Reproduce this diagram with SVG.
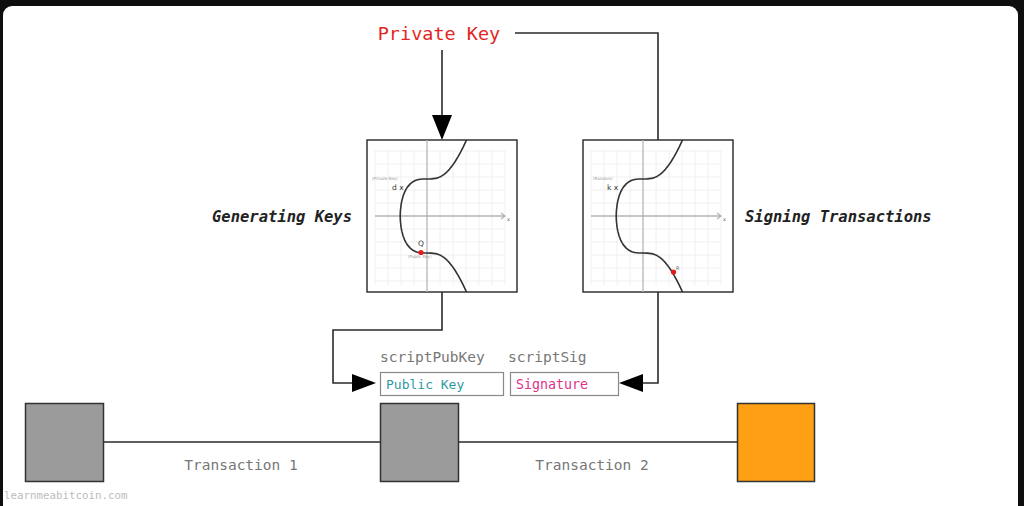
<svg xmlns="http://www.w3.org/2000/svg" width="1024" height="506" viewBox="0 0 1024 506">
<style>
.mono{font-family:"DejaVu Sans Mono","Liberation Mono",monospace}
.conn{fill:none;stroke:#2a2a2a;stroke-width:1.6}
.head{fill:#000}
.chartbox{fill:#fff;stroke:#333;stroke-width:1.5}
.grid{stroke:#f0f0f0;stroke-width:1}
.axis{stroke:#b5b5b5;stroke-width:1.3;fill:none}
.curve{fill:none;stroke:#333;stroke-width:1.6;stroke-linejoin:round}
.tiny{font-family:"DejaVu Sans","Liberation Sans",sans-serif;font-size:4px;fill:#999}
.lbl{font-family:"DejaVu Sans","Liberation Sans",sans-serif;font-size:7.5px;fill:#333}
.block{stroke:#333;stroke-width:1.5}
.ttl{font-family:"DejaVu Sans Mono","Liberation Mono",monospace;font-size:15.5px;font-style:italic;font-weight:bold;fill:#222}
.glabel{font-family:"DejaVu Sans Mono","Liberation Mono",monospace;font-size:14.5px;fill:#777}
</style>
<defs>
<clipPath id="boxclip"><rect x="-60" y="-76" width="150" height="152"/></clipPath>
<g id="gridaxes">
<path class="grid" d="M-52,-66V69M-39,-66V69M-26,-66V69M-13,-66V69M13,-66V69M26,-66V69M39,-66V69M52,-66V69M65,-66V69M78,-66V69M-52,-65H78M-52,-52H78M-52,-39H78M-52,-26H78M-52,-13H78M-52,13H78M-52,26H78M-52,39H78M-52,52H78M-52,65H78"/>
<path class="axis" d="M0,-76V76M-52,0H78M74,-3L78,0L74,3"/>
<text class="tiny" x="80" y="5" style="font-size:5px;fill:#666">x</text>
</g>
<path id="ec" class="curve" d="M42,-81.63L39.2,-75.33L36.4,-69.4L33.6,-63.88L30.8,-58.81L28,-54.22L25.2,-50.15L22.4,-46.63L19.6,-43.71L16.8,-41.36L14,-39.59L11.2,-38.37L8.4,-37.6L4.2,-37.11L0,-37.04L-4.2,-36.97L-8.4,-36.47L-11.2,-35.66L-14,-34.29L-16.8,-32.14L-19.6,-28.88L-21,-26.66L-22.4,-23.86L-23.8,-20.23L-25.2,-15.13L-25.9,-11.45L-26.6,-5.25L-26.8,0L-26.6,5.25L-25.9,11.45L-25.2,15.13L-23.8,20.23L-22.4,23.86L-21,26.66L-19.6,28.88L-16.8,32.14L-14,34.29L-11.2,35.66L-8.4,36.47L-4.2,36.97L0,37.04L4.2,37.11L8.4,37.6L11.2,38.37L14,39.59L16.8,41.36L19.6,43.71L22.4,46.63L25.2,50.15L28,54.22L30.8,58.81L33.6,63.88L36.4,69.4L39.2,75.33L42,81.63"/>
</defs>
<rect x="0" y="0" width="1024" height="506" fill="#0e0e0e"/>
<rect x="3" y="6" width="1015" height="520" rx="9" fill="#fff"/>

<g id="connectors">
<path class="conn" d="M515,33H658V140"/>
<path class="conn" d="M442,50V118"/>
<polygon class="head" points="432,115 452,115 442,140"/>
<path class="conn" d="M442,292V330H333V383H355"/>
<polygon class="head" points="352,374 352,392 376,383"/>
<path class="conn" d="M658,292V383H640"/>
<polygon class="head" points="643,374 643,392 619,383"/>
<path class="conn" d="M103,442H380M458,442H737"/>
</g>

<g id="private-key">
<text class="mono" x="439" y="40" text-anchor="middle" font-size="18.5" fill="#e3261f">Private Key</text>
</g>

<g id="generating-keys">
<rect class="chartbox" x="367" y="140" width="150" height="152"/>
<g transform="translate(427,216)">
<use href="#gridaxes"/>
<g clip-path="url(#boxclip)"><use href="#ec"/></g>
<text class="tiny" x="-55" y="-36">(Private Key)</text>
<text class="lbl" x="-35" y="-26">d x</text>
<text class="lbl" x="-9" y="30">Q</text>
<circle cx="-6" cy="36.5" r="2.6" fill="#e31b1b"/>
<text class="tiny" x="-19" y="42">(Public Key)</text>
</g>
<text class="ttl" x="352" y="222" text-anchor="end">Generating Keys</text>
</g>

<g id="signing-transactions">
<rect class="chartbox" x="583" y="140" width="150" height="152"/>
<g transform="translate(643,216)">
<use href="#gridaxes"/>
<g clip-path="url(#boxclip)"><use href="#ec"/></g>
<text class="tiny" x="-50" y="-36">(Random)</text>
<text class="lbl" x="-36" y="-26">k x</text>
<circle cx="30.5" cy="56" r="2.6" fill="#e31b1b"/>
<text class="tiny" x="33" y="54" style="font-size:5px;fill:#666">R</text>
</g>
<text class="ttl" x="745" y="222">Signing Transactions</text>
</g>

<g id="script-pubkey">
<text class="glabel" x="380" y="362">scriptPubKey</text>
<rect x="380.5" y="372.5" width="123" height="23" fill="#fff" stroke="#888" stroke-width="1.2"/>
<text class="mono" x="386" y="389" font-size="13" fill="#2f9aa3">Public Key</text>
</g>

<g id="script-sig">
<text class="glabel" x="508" y="362">scriptSig</text>
<rect x="510.5" y="372.5" width="108" height="23" fill="#fff" stroke="#888" stroke-width="1.2"/>
<text class="mono" x="516" y="389" font-size="13.3" fill="#e0308a">Signature</text>
</g>

<g id="block-1"><rect class="block" x="25.5" y="403.5" width="78" height="78" fill="#9b9b9b"/></g>
<g id="block-2"><rect class="block" x="380.5" y="403.5" width="78" height="78" fill="#9b9b9b"/></g>
<g id="block-3"><rect class="block" x="737.5" y="403.5" width="77" height="78" fill="#ff9f14" stroke="#5a4010"/></g>

<g id="tx-labels">
<text class="glabel" x="241" y="470" text-anchor="middle">Transaction 1</text>
<text class="glabel" x="592" y="470" text-anchor="middle">Transaction 2</text>
</g>

<text x="4" y="499" font-family="DejaVu Sans Mono, Liberation Mono, monospace" font-size="10.8" fill="#bcbcbc">learnmeabitcoin.com</text>
</svg>
